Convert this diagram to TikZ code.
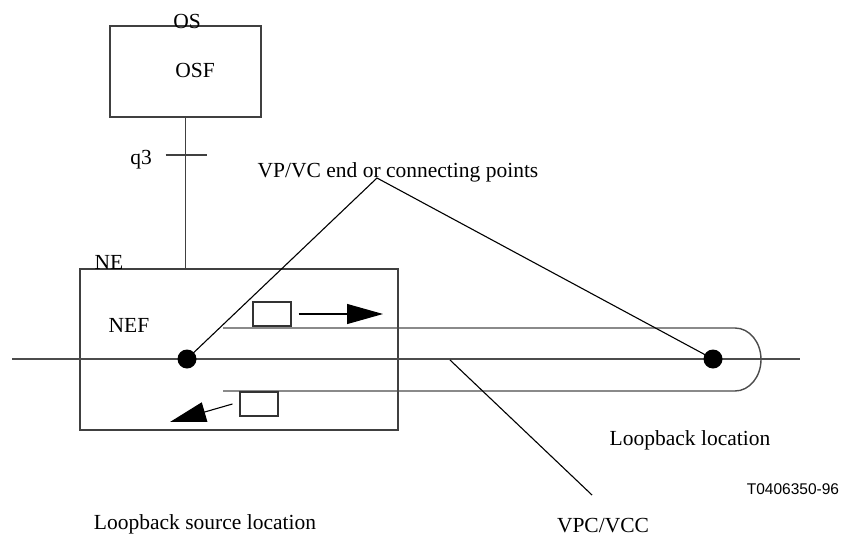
\documentclass[tikz,border=0pt]{standalone}
\usepackage{fontspec}
\setmainfont{Liberation Serif}
\newfontfamily\figsans{Liberation Sans}
\usetikzlibrary{arrows.meta}

\begin{document}
\begin{tikzpicture}[x=1pt,y=-1pt,>={Triangle[length=36pt,width=20pt]},
  every node/.style={font=\fontsize{21.5}{24}\selectfont,inner sep=0pt},
  frame/.style={draw=black!75,line width=1.2pt},
  flow/.style={draw=black!70,line width=1.4pt},
  cell/.style={draw=black!80,line width=1.2pt,minimum width=38pt,minimum height=24pt},
  spot/.style={circle,fill=black,minimum size=19pt},
  lead/.style={black,line width=1.1pt}]
  \useasboundingbox (0,0) rectangle (843,538);

  % management side
  \node[frame,minimum width=151pt,minimum height=91pt] (os) at (185.5,71.5) {};
  \node (oslbl) at (187,21) {OS};
  \node (osf) at (195,70) {OSF};
  \node[frame,minimum width=318pt,minimum height=161pt] (ne) at (239,349.5) {};
  \node (nelbl) at (109,262) {NE};
  \node (nef) at (129,325) {NEF};
  \draw[frame] (os.south) -- (os.south |- ne.north);
  \coordinate (q3tick) at (os.south |- 0,155);
  \draw[frame] ([xshift=-20pt]q3tick) -- ([xshift=21pt]q3tick);
  \node (q3) at (141,160) {q3};

  % connection and loop
  \coordinate (vpcin) at (12,359);
  \coordinate (vpcout) at (800,359);
  \draw[flow] (vpcin) -- (vpcout);
  \coordinate (lptop) at (223,328);
  \coordinate (lpbot) at (223,391);
  \draw[flow] (lptop) -- (735,328) arc[start angle=-90,end angle=90,x radius=26,y radius=31.5] -- (lpbot);
  \node[spot] (srcpt) at (187,359) {};
  \node[spot] (loopt) at (713,359) {};

  % OAM cells
  \node[cell] (txcell) at (272,314) {};
  \node[cell] (rxcell) at (259,404) {};
  \coordinate (txhead) at (383,314);
  \coordinate (rxhead) at (170,422);
  \draw[lead,->] ([xshift=7pt]txcell.east) -- (txhead);
  \draw[lead,->] ([xshift=-7pt]rxcell.west) -- (rxhead);

  % labels and leaders
  \node (endpts) at (398,172) {VP/VC end or connecting points};
  \coordinate (apex) at (377,178);
  \draw[lead] (srcpt.center) -- (apex) -- (loopt.center);
  \coordinate (vpcfoot) at (450,360);
  \coordinate (vpctip) at (592,495);
  \draw[lead] (vpcfoot) -- (vpctip);
  \node (vpclbl) at (603,526) {VPC/VCC};
  \node (lbloc) at (690,440) {Loopback location};
  \node (srcloc) at (205,524) {Loopback source location};
  \node[font=\figsans\fontsize{15.5}{18}\selectfont] (figid) at (793,489) {T0406350-96};
\end{tikzpicture}
\end{document}
